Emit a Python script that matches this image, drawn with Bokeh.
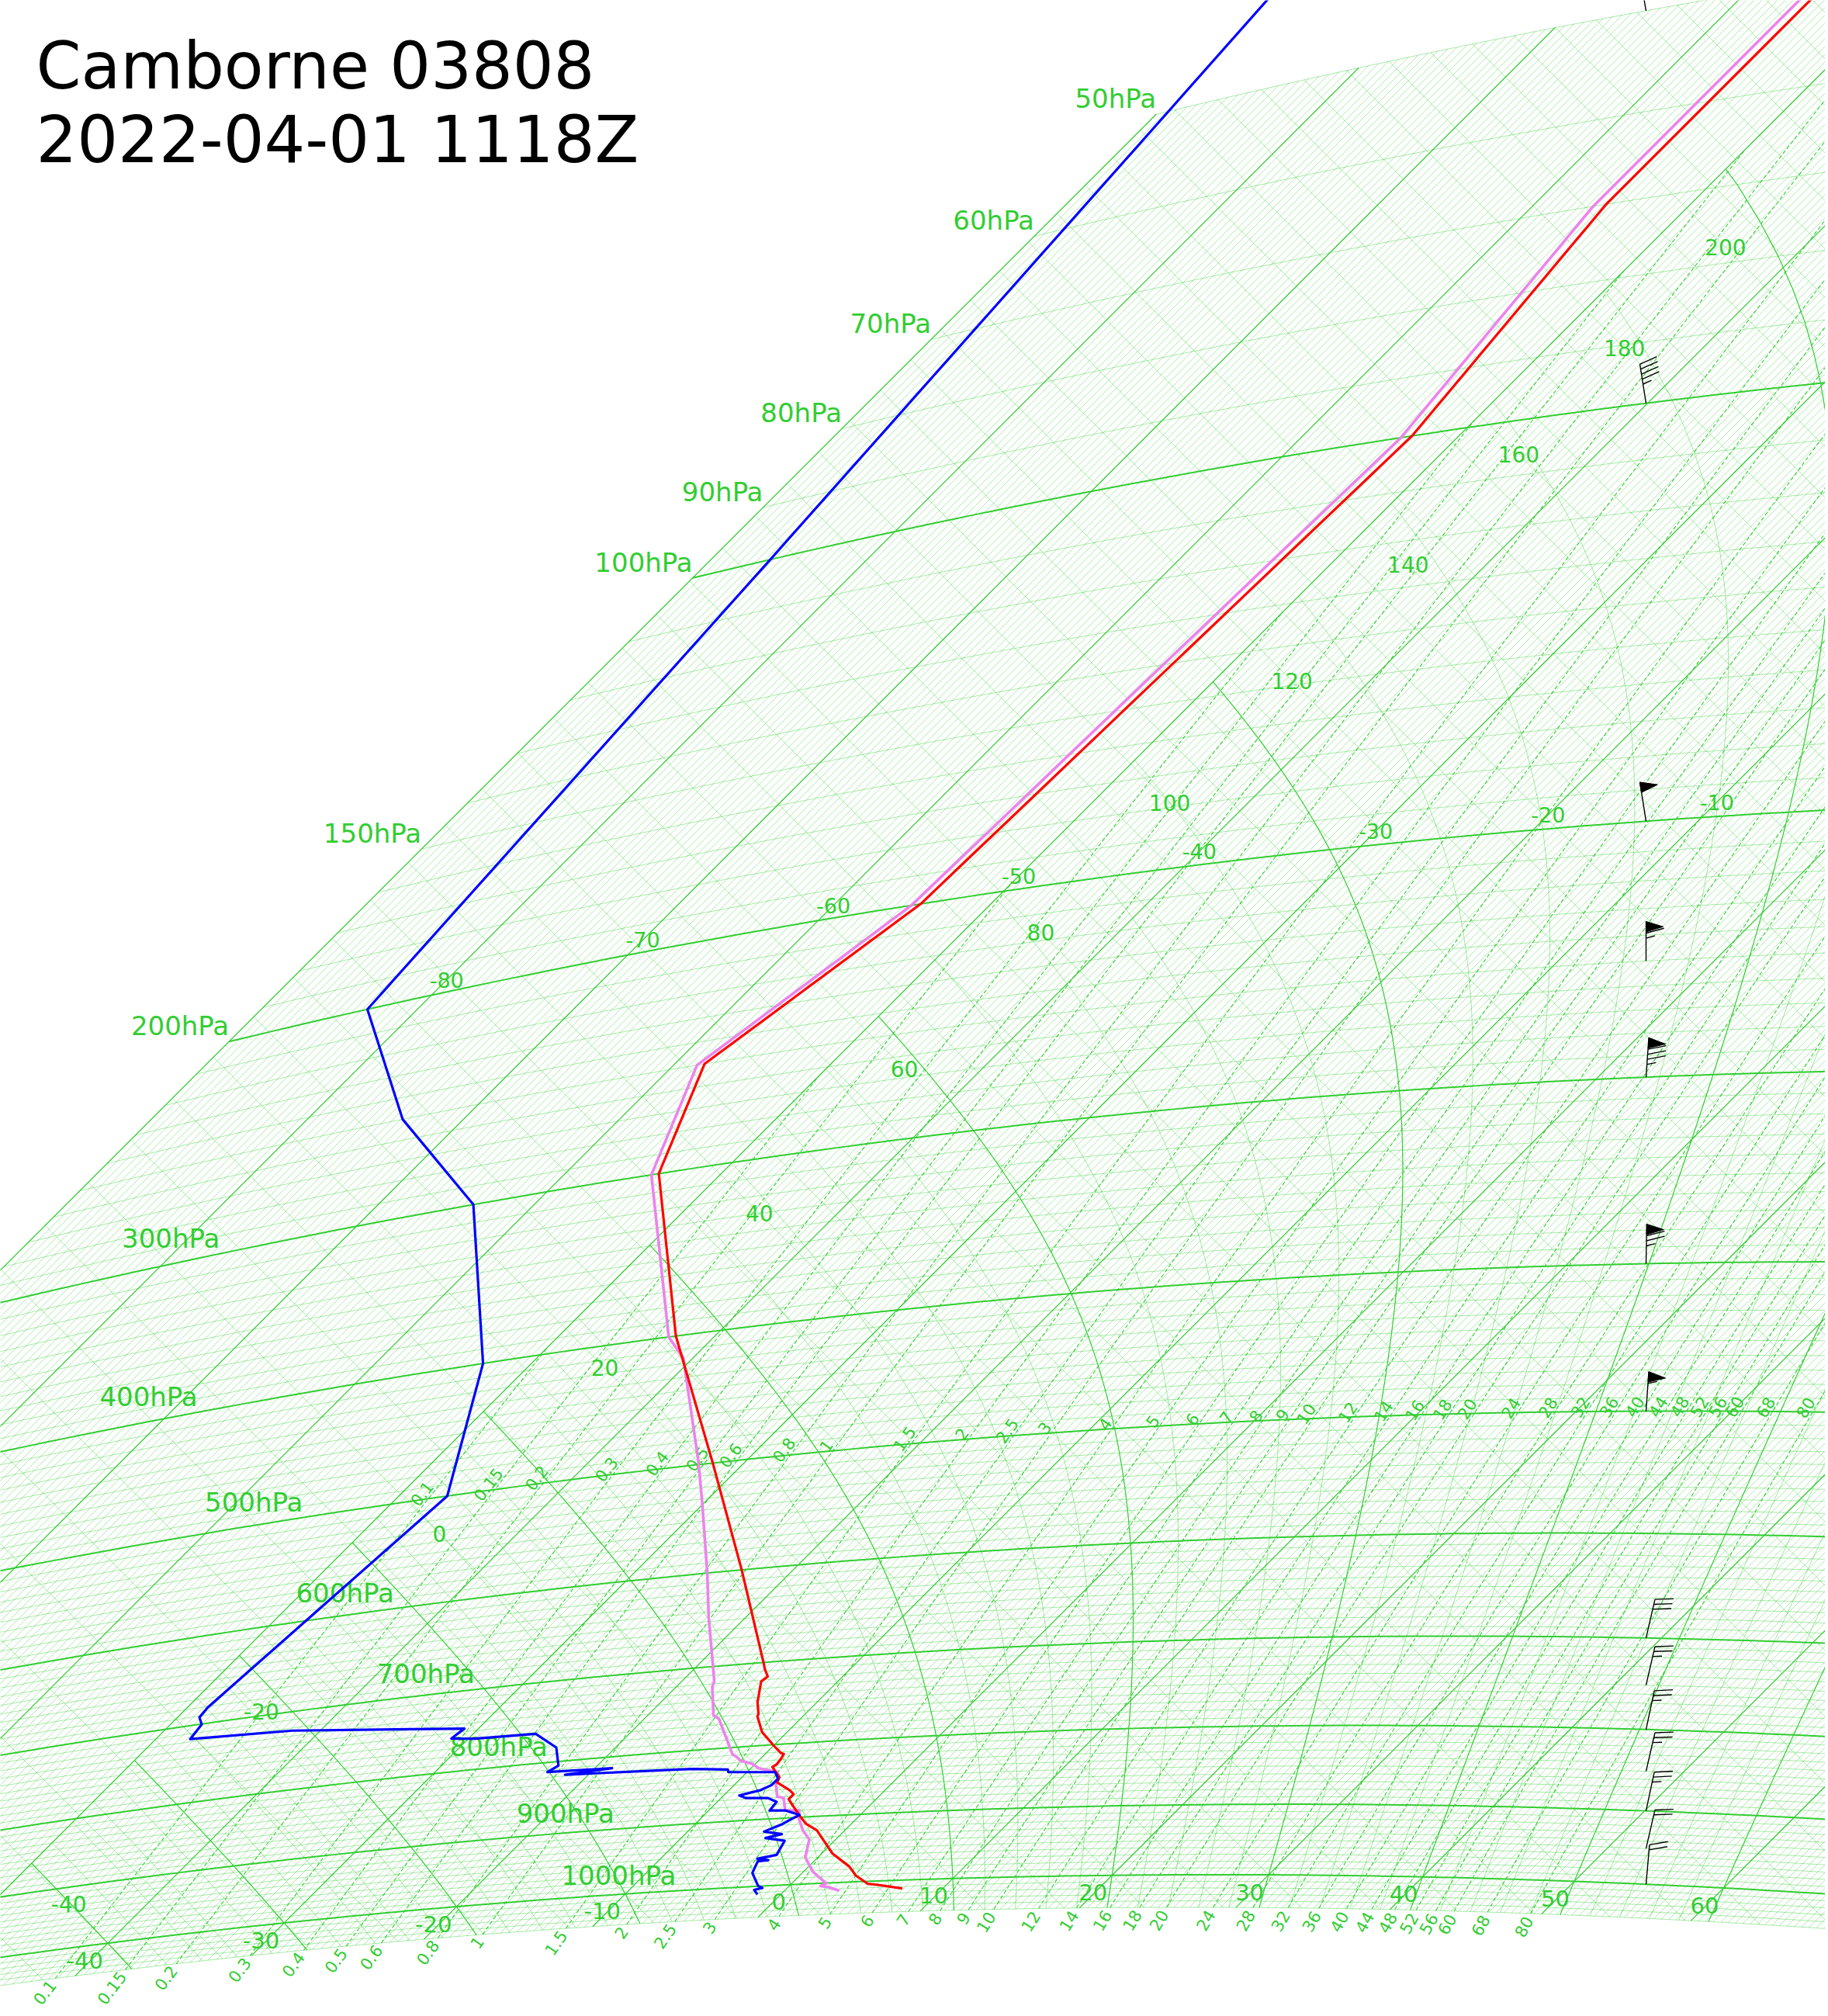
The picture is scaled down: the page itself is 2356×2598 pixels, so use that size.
import numpy as np
from bokeh.plotting import figure
from bokeh.models import Range1d
from bokeh.embed import file_html
from bokeh.resources import INLINE
from bokeh.core.properties import value

# ------------------------------------------------------------------
# Sounding data
# ------------------------------------------------------------------
station = "Camborne 03808"
valid_time = "2022-04-01 1118Z"

temp_p = [1013, 1005.6, 1003.9, 990.3, 976.0, 955.4, 929.8, 920.0, 909.9, 898.3,
          883.3, 873.8, 867.3, 861.6, 850.0, 843.1, 828.9, 825.7, 817.7, 812.9,
          810.8, 802.1, 783.0, 763.2, 760.1, 746.0, 721.7, 716.4, 707.1, 701.0,
          600, 500, 400, 300, 250, 200, 100, 70, 20]
temp_T = [7.4, 5.5, 4.9, 3.6, 2.6, 0.7, -1.1, -1.8, -2.9, -3.8,
          -4.9, -5.6, -5.6, -6.1, -7.4, -7.6, -8.7, -8.6, -8.7, -8.8,
          -9.1, -9.9, -11.6, -12.9, -13.0, -13.8, -14.9, -14.8, -15.5, -15.9,
          -23.3, -32.0, -42.5, -54.0, -58.1, -54.5, -53.0, -55.4, -55.4]

dewp_p = [1013, 1005.4, 1003.1, 999.5, 978.8, 961.4, 960.5, 957.5, 953.2, 932.8,
          927.3, 922.9, 917.8, 908.1, 903.1, 896.5, 889.2, 888.0, 876.5, 870.5,
          868.7, 864.5, 859.2, 853.0, 844.8, 835.9, 831.8, 828.3, 824.3, 823.6,
          818.3, 815.0, 812.7, 805.5, 781.6, 761.6, 760.0, 756.8, 746.0, 723.3,
          716.6, 700.5, 691.5, 681.2, 500, 400, 300, 250, 200, 100, 50, 30]
dewp_T = [-1.5, -2.0, -1.6, -2.0, -3.2, -3.6, -3.0, -3.8, -2.8, -3.2,
          -4.6, -3.8, -5.1, -4.4, -4.2, -3.9, -5.1, -6.1, -6.2, -7.0,
          -8.4, -9.0, -8.0, -7.6, -7.6, -8.2, -11.2, -11.4, -13.7, -14.6,
          -21.5, -18.9, -22.8, -22.5, -23.8, -26.0, -29.6, -31.1, -30.9, -41.8,
          -47.8, -48.0, -48.6, -48.7, -46.9, -53.1, -63.9, -73.9, -83.2, -86.2, -89.4, -91.8]

wetb_p = [1012.7, 1006.7, 1004.1, 1000.5, 981.5, 959.3, 932.7, 918.9, 901.9, 890.3,
          889.2, 871.7, 869.3, 849.9, 843.1, 835.9, 829.3, 823.0, 817.5, 813.9,
          808.4, 762.8, 757.6, 723.3, 717.5, 702.4, 645.1, 600, 533.8, 497.6,
          416.2, 400, 300, 250, 200, 100, 70, 20]
wetb_T = [3.5, 2.6, 2.0, 2.2, 0.6, -0.8, -1.7, -2.7, -3.7, -4.2,
          -5.1, -6.0, -6.5, -7.5, -7.6, -8.1, -9.5, -10.2, -11.2, -11.5,
          -12.1, -15.2, -15.8, -17.7, -17.9, -18.8, -22.4, -25.3, -30.1, -33.0,
          -40.6, -42.9, -54.4, -58.5, -55.0, -53.6, -56.1, -56.1]

wind_p = [50, 100, 200, 250, 300, 400, 500, 700, 750, 800, 850, 900, 950, 1000]
wind_dir = [350, 351, 351, 360, 4, 1, 4, 13, 13, 12, 13, 12, 13, 5]
wind_kt = [45, 45, 50, 65, 85, 75, 55, 30, 25, 25, 25, 25, 20, 20]

# diagram labels
isobar_labels = [1000, 900, 800, 700, 600, 500, 400, 300, 200, 150, 100, 90, 80, 70, 60, 50]
isotherm_labels = [-80, -70, -60, -50, -40, -30, -20, -10]
theta_labels = [-40, -20, 0, 20, 40, 60, 80, 100, 120, 140, 160, 180, 200]
wet_labels = [-40, -30, -20, -10, 0, 10, 20, 30, 40, 50, 60]
mixing_ratios = [0.1, 0.15, 0.2, 0.3, 0.4, 0.5, 0.6, 0.8, 1, 1.5, 2, 2.5, 3, 4, 5, 6, 7,
                 8, 9, 10, 12, 14, 16, 18, 20, 24, 28, 32, 36, 40, 44, 48, 52, 56, 60, 68, 80]

# ------------------------------------------------------------------
# Tephigram transform
# ------------------------------------------------------------------
KELVIN = 273.15
KAPPA = 0.2857
MA = 300.0
P_TOP, P_BOT = 50.0, 1050.0
T_MIN = -90.0
T_CUT = -50.0


def native(T, pr):
    T = np.asarray(T, dtype=float)
    pr = np.asarray(pr, dtype=float)
    theta = (T + KELVIN) * (1000.0 / pr) ** KAPPA
    phi = MA * np.log(theta)
    return phi + T, phi - T


# layout in pixels (Bokeh's page template has no body margin)
FIG_W, FIG_H = 2352, 2594
S = 10.057
X0 = -15907.55
Y0 = 19354.25
OFFSET = 0
x_start = (OFFSET - X0) / S
x_end = (OFFSET + FIG_W - X0) / S
y_end = (Y0 - OFFSET) / S
y_start = (Y0 - OFFSET - FIG_H) / S

p = figure(width=FIG_W, height=FIG_H,
           x_range=Range1d(x_start, x_end), y_range=Range1d(y_start, y_end),
           output_backend="svg", toolbar_location=None,
           x_axis_location=None, y_axis_location=None, min_border=0)
p.grid.visible = False
p.outline_line_color = None
p.background_fill_color = "white"
p.border_fill_color = "white"

GREEN = "#32cd32"
LIGHT = dict(line_color=GREEN, line_alpha=0.42, line_width=1.0)


def cut_below(pp, TT, tmin):
    idx = np.where(TT < tmin)[0]
    if len(idx) == 0:
        return pp, TT
    i = idx[0]
    if i == 0:
        return None
    f = (TT[i - 1] - tmin) / (TT[i - 1] - TT[i])
    pc = pp[i - 1] + f * (pp[i] - pp[i - 1])
    return np.append(pp[:i], pc), np.append(TT[:i], tmin)


# ---------------- isobars -----------------
Tgrid = np.linspace(T_MIN, 110, 201)
ib_min_x, ib_min_y, ib_maj_x, ib_maj_y = [], [], [], []
for pr in range(50, 1051, 10):
    x, y = native(Tgrid, np.full_like(Tgrid, pr))
    if pr % 100 == 0:
        ib_maj_x.append(list(x)); ib_maj_y.append(list(y))
    else:
        ib_min_x.append(list(x)); ib_min_y.append(list(y))

# ---------------- isotherms ----------------
it_min_x, it_min_y, it_maj_x, it_maj_y = [], [], [], []
for T in np.round(np.arange(T_MIN, 80.001, 0.5), 1):
    x, y = native([T, T], [P_BOT, P_TOP])
    if abs(T - 10 * round(T / 10)) < 1e-6:
        it_maj_x.append(list(x)); it_maj_y.append(list(y))
    else:
        it_min_x.append(list(x)); it_min_y.append(list(y))

# ---------------- dry adiabats ----------------
da_x, da_y = [], []
for th in np.arange(-50, 245, 5):
    thK = th + KELVIN
    p_top = max(P_TOP, 1000.0 * ((T_MIN + KELVIN) / thK) ** (1.0 / KAPPA))
    if p_top >= P_BOT:
        continue
    pp = np.array([P_BOT, p_top])
    TT = thK * (pp / 1000.0) ** KAPPA - KELVIN
    x, y = native(TT, pp)
    da_x.append(list(x)); da_y.append(list(y))


# ---------------- wet adiabats ----------------
def moist_rate(pr, T):
    Rd, cp, L, eps = 287.04, 1005.7, 2.501e6, 0.622
    Tc = T - KELVIN
    es = 6.112 * np.exp(17.67 * Tc / (Tc + 243.5))
    rs = eps * es / (pr - es)
    return (Rd * T + L * rs) / (pr * (cp + L * L * rs * eps / (Rd * T * T)))


def integrate(p0, T0, p1, n):
    ps = np.linspace(p0, p1, n + 1)
    Ts = [T0]
    T = T0
    for i in range(n):
        h = ps[i + 1] - ps[i]
        pp0 = ps[i]
        k1 = moist_rate(pp0, T)
        k2 = moist_rate(pp0 + h / 2, T + h * k1 / 2)
        k3 = moist_rate(pp0 + h / 2, T + h * k2 / 2)
        k4 = moist_rate(pp0 + h, T + h * k3)
        T = T + h * (k1 + 2 * k2 + 2 * k3 + k4) / 6
        Ts.append(T)
    return ps, np.array(Ts)


wa_min_x, wa_min_y, wa_maj_x, wa_maj_y = [], [], [], []
for thw in range(-40, 61, 2):
    pd_, Td_ = integrate(1000.0, thw + KELVIN, P_BOT, 10)
    pu_, Tu_ = integrate(1000.0, thw + KELVIN, P_TOP, 190)
    pp = np.concatenate([pd_[::-1], pu_[1:]])
    TT = np.concatenate([Td_[::-1], Tu_[1:]]) - KELVIN
    res = cut_below(pp, TT, T_CUT)
    if res is None:
        continue
    x, y = native(res[1], res[0])
    if thw % 10 == 0:
        wa_maj_x.append(list(x)); wa_maj_y.append(list(y))
    else:
        wa_min_x.append(list(x)); wa_min_y.append(list(y))


# ---------------- mixing ratio lines ----------------
def dewpoint_from_w(w, pr):
    e = w * np.asarray(pr, dtype=float) / (622.0 + w)
    l = np.log(e / 6.112)
    return 243.5 * l / (17.67 - l)


mr_x, mr_y = [], []
pp_mr = np.linspace(P_BOT, P_TOP, 401)
for w in mixing_ratios:
    TT = dewpoint_from_w(w, pp_mr)
    res = cut_below(pp_mr, TT, T_CUT)
    if res is None:
        continue
    x, y = native(res[1], res[0])
    mr_x.append(list(x)); mr_y.append(list(y))

# draw grid
p.multi_line(ib_min_x, ib_min_y, **LIGHT)
p.multi_line(it_min_x, it_min_y, **LIGHT)
p.multi_line(da_x, da_y, **LIGHT)
p.multi_line(wa_min_x, wa_min_y, line_color=GREEN, line_alpha=0.45, line_width=1.0)
p.multi_line(it_maj_x, it_maj_y, line_color=GREEN, line_width=1.3)
p.multi_line(wa_maj_x, wa_maj_y, line_color=GREEN, line_width=1.2)
p.multi_line(mr_x, mr_y, line_color=GREEN, line_width=1.1, line_dash="5 3")
p.multi_line(ib_maj_x, ib_maj_y, line_color=GREEN, line_width=2.0)


def shift(x, y, dpx, dpy):
    return x + dpx / S, y - dpy / S


FONT = value("DejaVu Sans")

# isobar labels
lx, ly, lt = [], [], []
for pr in isobar_labels:
    if pr >= 400:
        Ta = 266.2 * (pr / 1000.0) ** KAPPA - KELVIN
    elif pr == 300:
        Ta = -77.0
    else:
        Ta = T_MIN
    x, y = native(Ta, pr)
    lx.append(float(x)); ly.append(float(y)); lt.append("%dhPa" % pr)
p.text(x=lx, y=ly, text=lt, text_font=FONT, text_font_size=value("34px"),
       text_color=GREEN, text_align="right", text_baseline="bottom")

# isotherm labels along ~200 hPa
x, y = native(isotherm_labels, [195.5] * len(isotherm_labels))
p.text(x=list(x), y=list(y), text=[str(v) for v in isotherm_labels], text_font=FONT,
       text_font_size=value("27px"), text_color=GREEN, text_align="center",
       text_baseline="middle")

# dry adiabat labels along the -45 C isotherm
T_lab = -45.0
pp_lab = [1000.0 * ((T_lab + KELVIN) / (th + KELVIN)) ** (1.0 / KAPPA) for th in theta_labels]
x, y = native([T_lab] * len(theta_labels), pp_lab)
p.text(x=list(x), y=list(y), text=[str(v) for v in theta_labels], text_font=FONT,
       text_font_size=value("28px"), text_color=GREEN, text_align="center",
       text_baseline="middle")

# wet adiabat labels near 1000 hPa
x, y = native(wet_labels, [1000.0] * len(wet_labels))
x, y = shift(x, y, -6, 22)
p.text(x=list(x), y=list(y), text=[str(v) for v in wet_labels], text_font=FONT,
       text_font_size=value("29px"), text_color=GREEN, text_align="right",
       text_baseline="middle")

# mixing ratio labels (1050 hPa and 500 hPa)
bx, by, ba, tx, ty, ta, txt = [], [], [], [], [], [], []
for w in mixing_ratios:
    lab = "%g" % w
    for pr, store in ((P_BOT, "b"), (500.0, "t")):
        T0 = dewpoint_from_w(w, pr)
        T1 = dewpoint_from_w(w, pr * 0.97)
        x0, y0 = native(T0, pr)
        x1, y1 = native(T1, pr * 0.97)
        ang = np.arctan2(y1 - y0, x1 - x0)
        if store == "b":
            gx = float(x0) - 6 / S * np.cos(ang)
            gy = float(y0) - 6 / S * np.sin(ang)
            bx.append(gx); by.append(gy); ba.append(float(ang))
        else:
            gx = float(x0) - 3 / S * np.sin(ang)
            gy = float(y0) + 3 / S * np.cos(ang)
            tx.append(gx); ty.append(gy); ta.append(float(ang))
    txt.append(lab)
p.text(x=bx, y=by, text=txt, angle=ba, text_font=FONT, text_font_size=value("21px"),
       text_color=GREEN, text_align="right", text_baseline="middle")
p.text(x=tx, y=ty, text=txt, angle=ta, text_font=FONT, text_font_size=value("21px"),
       text_color=GREEN, text_align="center", text_baseline="bottom")

# ---------------- profiles ----------------
x, y = native(wetb_T, wetb_p)
p.line(list(x), list(y), line_color="violet", line_width=3.6, line_join="round")
x, y = native(temp_T, temp_p)
p.line(list(x), list(y), line_color="red", line_width=3.2, line_join="round")
x, y = native(dewp_T, dewp_p)
p.line(list(x), list(y), line_color="blue", line_width=3.2, line_join="round")

# ---------------- wind barbs ----------------
BARB_X_PX = 2121.0
x_barb = (BARB_X_PX - X0) / S
Tg = np.linspace(-150, 150, 6001)
seg_x, seg_y, pol_x, pol_y = [], [], [], []
for pr, wd, ws in zip(wind_p, wind_dir, wind_kt):
    xg, yg = native(Tg, np.full_like(Tg, pr))
    yb = float(np.interp(x_barb, xg, yg))
    xb = x_barb
    d = np.radians(wd)
    u = np.array([np.sin(d), -np.cos(d)])
    n = np.array([np.cos(d), np.sin(d)])
    Lst, full, half, sp, fw, fh = 51.0, 24.0, 12.0, 6.5, 13.5, 22.0
    a = np.radians(15)
    tdir = n * np.cos(a) + u * np.sin(a)
    tip = u * Lst

    def to_data(v):
        return xb + v[0] / S, yb - v[1] / S

    segs = [(np.zeros(2), tip)]
    spd = int(round(ws / 5.0)) * 5
    n50 = spd // 50
    rem = spd - 50 * n50
    n10 = rem // 10
    n5 = (rem - 10 * n10) // 5
    pos = 0.0
    for _ in range(n50):
        top = tip - u * pos
        bot = tip - u * (pos + fw)
        apex = tip - u * (pos + fw / 2) + n * fh
        pts = [to_data(top), to_data(apex), to_data(bot)]
        pol_x.append([q[0] for q in pts]); pol_y.append([q[1] for q in pts])
        pos += fw + 1.5
    for _ in range(n10):
        s0 = tip - u * pos
        segs.append((s0, s0 + tdir * full))
        pos += sp
    for _ in range(n5):
        s0 = tip - u * pos
        segs.append((s0, s0 + tdir * half))
        pos += sp
    for s0, s1 in segs:
        a0 = to_data(s0); a1 = to_data(s1)
        seg_x.append([a0[0], a1[0]]); seg_y.append([a0[1], a1[1]])

p.multi_line(seg_x, seg_y, line_color="black", line_width=1.4)
p.patches(pol_x, pol_y, fill_color="black", line_color="black", line_width=1.0)

# ---------------- title ----------------
tx0 = (46 - X0) / S
p.text(x=[tx0, tx0], y=[(Y0 - 84.5) / S, (Y0 - 180) / S], text=[station, valid_time],
       text_font=FONT, text_font_size=value("83px"), text_color="black",
       text_align="left", text_baseline="middle")

html = file_html(p, INLINE, title="Tephigram")
with open("out.html", "w") as f:
    f.write(html)
